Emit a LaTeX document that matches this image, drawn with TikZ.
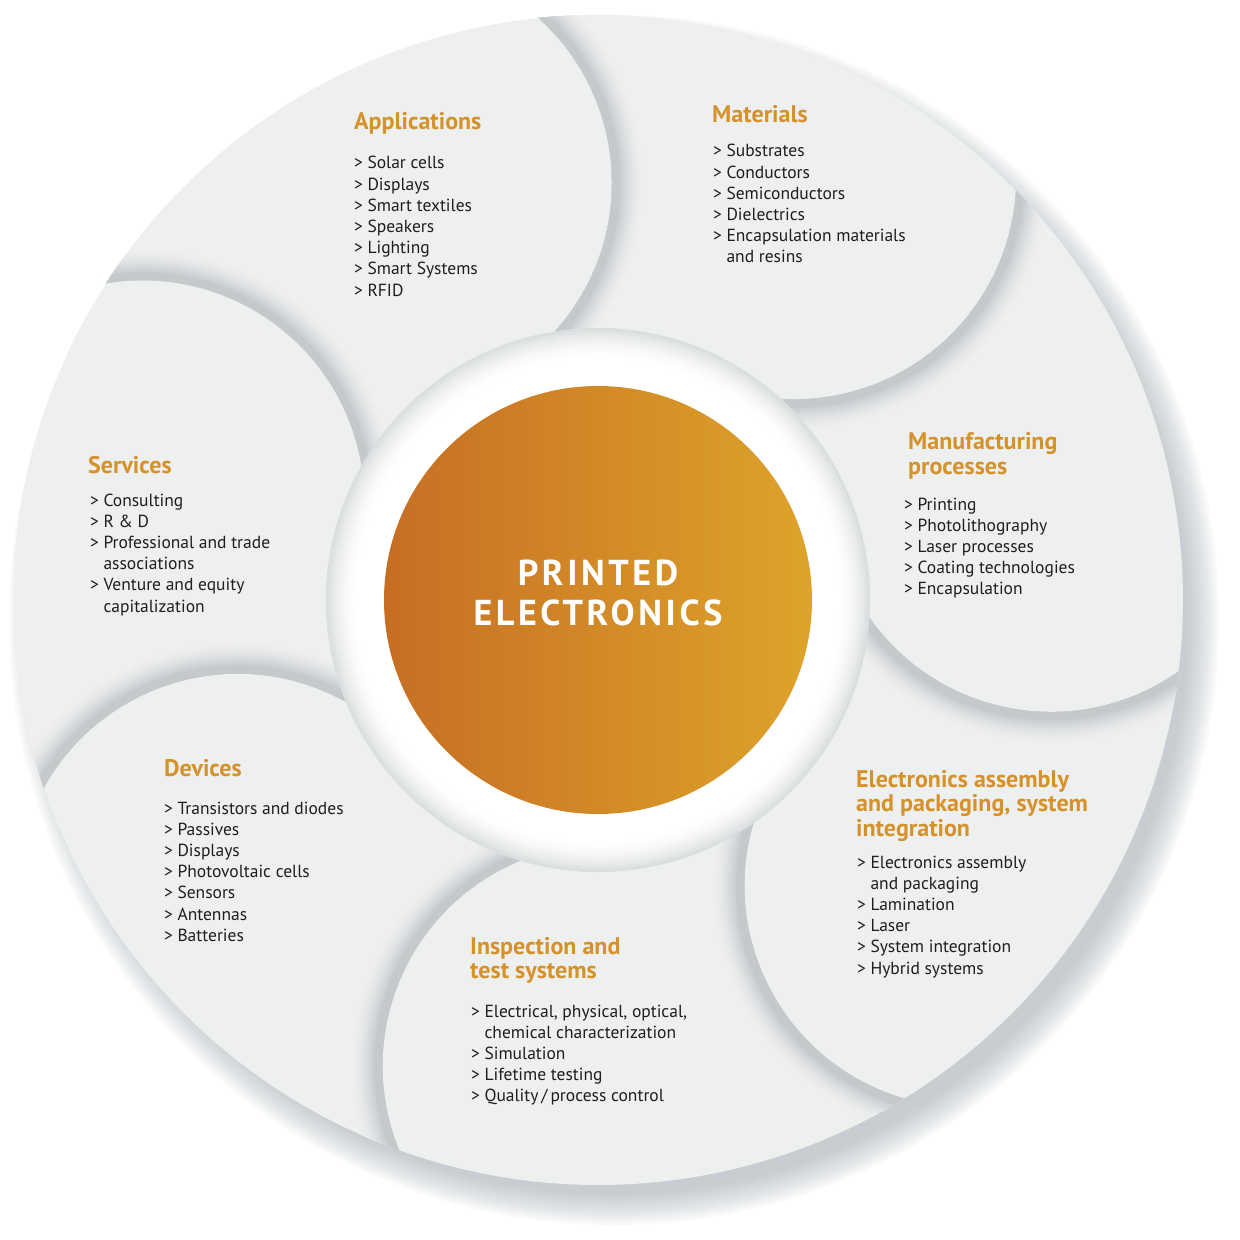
\documentclass[tikz,border=0pt]{standalone}
\usepackage{fontspec}
\setmainfont{PT Sans}
\definecolor{facegray}{RGB}{238,239,239}
\definecolor{rimgray}{RGB}{196,201,204}
\definecolor{shadowgray}{RGB}{150,160,166}
\definecolor{headorange}{RGB}{214,146,42}
\definecolor{peleft}{RGB}{198,110,36}
\definecolor{peright}{RGB}{222,164,42}
\definecolor{itemblack}{RGB}{30,30,30}
\newcommand{\seglist}[1]{\begin{tabular}[t]{@{}l@{\hspace{4.5pt}}l@{}}#1\end{tabular}}
\newcommand{\seghead}[1]{\begin{tabular}[t]{@{}l@{}}#1\end{tabular}}
\def\facepath{(-20.68:585) arc[start angle=-68.5,end angle=-158.5,radius=222]
  arc[start angle=-17.44,end angle=33.99,radius=272]
  arc[start angle=-107.07,end angle=-17.07,radius=222]
  arc[start angle=30.75,end angle=-20.68,radius=585] -- cycle}
\tikzset{
  headtext/.style={anchor=base west,inner sep=0pt,text=headorange,
    font=\fontsize{24}{24.5}\selectfont\bfseries},
  itemtext/.style={anchor=base west,inner sep=0pt,text=itemblack,
    font=\fontsize{17.5}{21.2}\selectfont},
  centretext/.style={anchor=base,inner sep=0pt,text=white,
    font=\fontsize{36}{40}\selectfont\bfseries\addfontfeature{LetterSpace=10}}
}

\begin{document}
\begin{tikzpicture}[x=1pt,y=1pt]
  \useasboundingbox (-598,-640) rectangle (642,600);
  \fill[white] (-598,-640) rectangle (642,600);
  \foreach \r in {0,3,...,30}
    \fill[shadowgray,opacity=0.06] (16,-20) circle (575+\r);
  \foreach \k in {0,...,6} {
    \begin{scope}[rotate=116.5-51.4286*\k]
      \fill[facegray] \facepath;
      \clip \facepath;
      \foreach \t/\p in {30/3,28/7,26/12,24/18,22/25,20/33,18/42,16/52,14/63,12/75,10/88,8/100}
        \fill[rimgray!\p!facegray] (51.4286:466) circle (222+\t);
    \end{scope}
  }
  \foreach \r/\p in {272/60,269/50,266/41,263/33,260/26,257/19,254/13,251/8,248/4,245/2}
    \fill[rimgray!\p!white] (0,0) circle (\r);
  \fill[white] (0,0) circle (242);
  \shade[left color=peleft,right color=peright] (0,0) circle (214);
  \node[centretext] (PE) at (0,15) {\begin{tabular}[t]{@{}c@{}}PRINTED\\ELECTRONICS\end{tabular}};

  \node[headtext] (Ap) at (-244,470) {Applications};
  \node[itemtext] (Apl) at (-244,431) {\seglist{> & Solar cells\\> & Displays\\> & Smart textiles\\
    > & Speakers\\> & Lighting\\> & Smart Systems\\> & RFID}};
  \node[headtext] (Ma) at (114,477) {Materials};
  \node[itemtext] (Mal) at (115,443) {\seglist{> & Substrates\\> & Conductors\\> & Semiconductors\\
    > & Dielectrics\\> & Encapsulation materials\\ & and resins}};
  \node[headtext] (Mp) at (310,150) {\seghead{Manufacturing\\processes}};
  \node[itemtext] (Mpl) at (306,90) {\seglist{> & Printing\\> & Photolithography\\> & Laser processes\\
    > & Coating technologies\\> & Encapsulation}};
  \node[headtext] (Ea) at (258,-187) {\seghead{Electronics assembly\\and packaging, system\\integration}};
  \node[itemtext] (Eal) at (259,-268) {\seglist{> & Electronics assembly\\ & and packaging\\> & Lamination\\
    > & Laser\\> & System integration\\> & Hybrid systems}};
  \node[headtext] (In) at (-128,-354) {\seghead{Inspection and\\test systems}};
  \node[itemtext] (Inl) at (-127,-417) {\seglist{> & Electrical, physical, optical,\\ & chemical characterization\\
    > & Simulation\\> & Lifetime testing\\> & Quality\,/\,process control}};
  \node[headtext] (De) at (-434,-176) {Devices};
  \node[itemtext] (Del) at (-434,-214) {\seglist{> & Transistors and diodes\\> & Passives\\> & Displays\\
    > & Photovoltaic cells\\> & Sensors\\> & Antennas\\> & Batteries}};
  \node[headtext] (Se) at (-510,127) {Services};
  \node[itemtext] (Sel) at (-508,94) {\seglist{> & Consulting\\> & R \& D\\> & Professional and trade\\
    & associations\\> & Venture and equity\\ & capitalization}};
\end{tikzpicture}
\end{document}
